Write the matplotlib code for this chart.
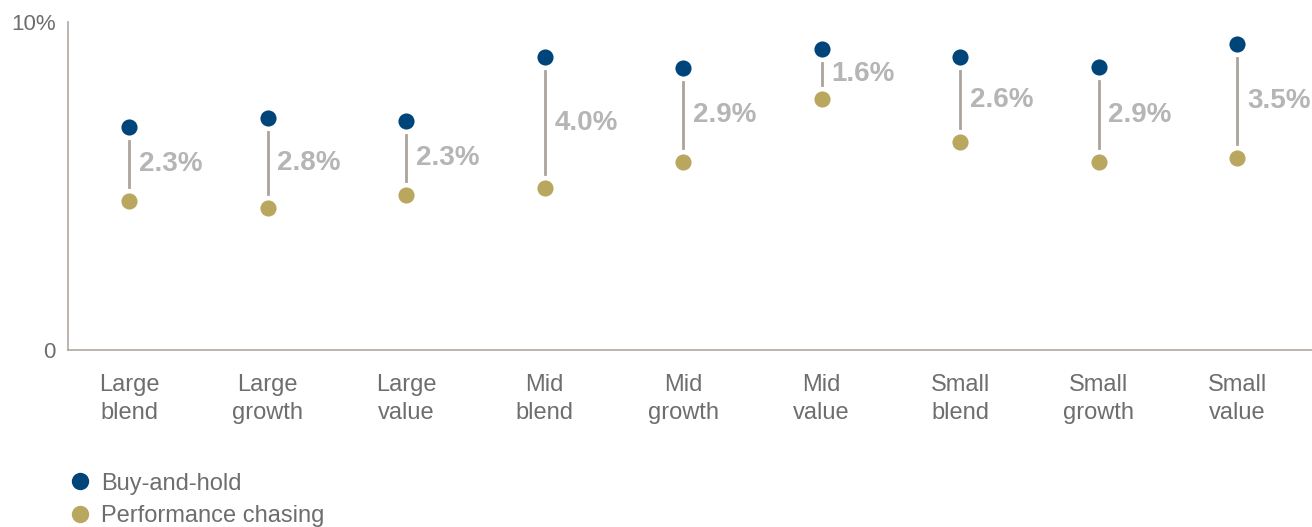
import numpy as np
import matplotlib.pyplot as plt
from matplotlib.lines import Line2D

categories = ['Large\nblend', 'Large\ngrowth', 'Large\nvalue', 'Mid\nblend', 'Mid\ngrowth',
              'Mid\nvalue', 'Small\nblend', 'Small\ngrowth', 'Small\nvalue']
buy_hold = [6.80, 7.07, 6.98, 8.93, 8.60, 9.18, 8.93, 8.63, 9.33]
perf_chase = [4.54, 4.33, 4.73, 4.94, 5.73, 7.65, 6.34, 5.73, 5.85]
gap_labels = ['2.3%', '2.8%', '2.3%', '4.0%', '2.9%', '1.6%', '2.6%', '2.9%', '3.5%']

c_bh = '#00457a'
c_pc = '#b9a75f'
c_line = '#aaa49c'
c_text = '#6d6e70'

plt.rcParams['font.family'] = ['Liberation Sans', 'DejaVu Sans']

fig = plt.figure(figsize=(13.12, 5.27), dpi=100)
ax = fig.add_axes([0.052, 0.336, 0.948, 0.622])

x = np.arange(len(categories))
gap = 0.42
for i in x:
    ax.plot([i, i], [buy_hold[i] - gap, perf_chase[i] + gap], color=c_line, lw=2, zorder=1)
    mid = (buy_hold[i] + perf_chase[i]) / 2
    ax.text(i + 0.07, mid, gap_labels[i], color='#b5b5b5', fontsize=20, fontweight='bold',
            ha='left', va='center')

ax.scatter(x, buy_hold, s=135, color=c_bh, zorder=3, linewidths=0)
ax.scatter(x, perf_chase, s=135, color=c_pc, zorder=3, linewidths=0)

ax.set_xlim(-0.44, 8.54)
ax.set_ylim(0, 10)
ax.set_yticks([0, 10])
ax.set_yticklabels(['0', '10%'])
ax.set_xticks(x)
ax.set_xticklabels(categories, linespacing=1.38)
ax.tick_params(axis='both', length=0, labelsize=17, labelcolor=c_text)
ax.tick_params(axis='x', pad=17)
ax.tick_params(axis='y', pad=9, labelsize=16)
for s in ['top', 'right']:
    ax.spines[s].set_visible(False)
for s in ['left', 'bottom']:
    ax.spines[s].set_color('#b0a89f')
    ax.spines[s].set_linewidth(1.2)

handles = [Line2D([], [], marker='o', ls='', color=c_bh, markersize=11.5),
           Line2D([], [], marker='o', ls='', color=c_pc, markersize=11.5)]
fig.legend(handles, ['Buy-and-hold', 'Performance chasing'], loc='upper left',
           bbox_to_anchor=(0.043, 0.121), frameon=False, fontsize=17, labelcolor=c_text,
           handletextpad=0.3, labelspacing=0.45, borderaxespad=0, handlelength=1.2)

fig.savefig('out.png', dpi=100)
